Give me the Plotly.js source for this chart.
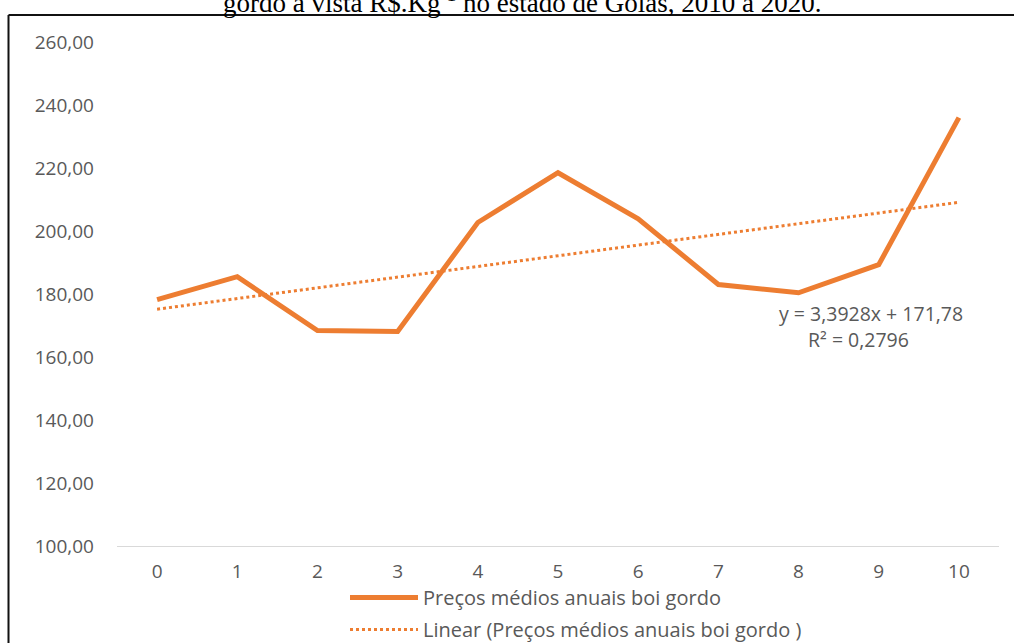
<!DOCTYPE html>
<html>
<head>
<meta charset="utf-8">
<script src="https://cdn.plot.ly/plotly-3.0.1.min.js"></script>
<style>html,body{margin:0;padding:0;background:#fff;}#chart{width:1014px;height:643px;}</style>
</head>
<body>
<div id="chart"></div>
<script>
// Data
var periods = [0, 1, 2, 3, 4, 5, 6, 7, 8, 9, 10];
var prices = [178.2, 185.5, 168.4, 168.1, 202.7, 218.5, 203.9, 183.0, 180.4, 189.3, 236.0];
var seriesName = 'Preços médios anuais boi gordo';
var trendName = 'Linear (Preços médios anuais boi gordo )';
var trendSlope = 3.3928;
var trendIntercept = 171.78;
var trendR2 = 0.2796;
var yTicks = [100, 120, 140, 160, 180, 200, 220, 240, 260];
var titleText = 'gordo à vista R$.Kg<sup>-1</sup> no estado de Goiás, 2010 a 2020.';

// Excel trendline uses x = 1..n for the category positions
var trendX = [periods[0], periods[periods.length - 1]];
var trendY = trendX.map(function (p) { return trendSlope * (p + 1) + trendIntercept; });

function fmt(v, d) { return v.toFixed(d).replace('.', ','); }

var orange = '#ED7D31';
var gray = '#595959';
var font = 'Open Sans, Lato, sans-serif';

var traces = [
  {x: periods, y: prices, type: 'scatter', mode: 'lines', name: seriesName, legendgroup: 'a',
   line: {color: orange, width: 5}},
  {x: trendX, y: trendY, type: 'scatter', mode: 'lines', name: trendName, legendgroup: 'b',
   line: {color: orange, width: 3, dash: 'dot'}}
];

var layout = {
  width: 1014, height: 643,
  margin: {l: 117, r: 15, t: 42, b: 97, autoexpand: false},
  paper_bgcolor: '#ffffff', plot_bgcolor: '#ffffff',
  separators: ',.',
  font: {family: font, color: gray, size: 19},
  showlegend: true,
  legend: {xref: 'container', yref: 'container', x: 345 / 1014, y: 1 - 578 / 643, xanchor: 'left', yanchor: 'top',
           orientation: 'v', font: {family: font, size: 20, color: gray}, itemwidth: 68, tracegroupgap: 3,
           bgcolor: 'rgba(0,0,0,0)'},
  xaxis: {range: [-0.5, 10.5], tickmode: 'array', tickvals: periods, ticktext: periods.map(String),
          showgrid: false, zeroline: false, showline: true, linecolor: '#d9d9d9', linewidth: 1,
          ticks: '', ticklabelstandoff: 8, automargin: false, tickangle: 0,
          tickfont: {family: font, size: 19, color: gray}},
  yaxis: {range: [100, 260], tickmode: 'array', tickvals: yTicks, ticktext: yTicks.map(function (v) { return fmt(v, 2); }),
          showgrid: false, zeroline: false, showline: false, ticks: '', ticklabelstandoff: 22, automargin: false,
          tickfont: {family: font, size: 19, color: gray}},
  annotations: [
    {xref: 'paper', yref: 'paper', x: (522 - 117) / 882, y: (546 - 1) / 504, xanchor: 'center', yanchor: 'middle',
     text: titleText, showarrow: false, font: {family: 'Liberation Serif, Times New Roman, serif', size: 27, color: '#000'}},
    {xref: 'x', yref: 'y', x: 8.9, y: 173.7, xanchor: 'center', yanchor: 'middle', showarrow: false,
     text: 'y = ' + fmt(trendSlope, 4) + 'x + ' + fmt(trendIntercept, 2), font: {family: font, size: 19.5, color: gray}},
    {xref: 'x', yref: 'y', x: 8.75, y: 165.7, xanchor: 'center', yanchor: 'middle', showarrow: false,
     text: 'R² = ' + fmt(trendR2, 4), font: {family: font, size: 19.5, color: gray}}
  ],
  shapes: [
    {type: 'line', xref: 'paper', yref: 'paper', x0: (8.5 - 117) / 882, x1: (1014 - 117) / 882,
     y0: (546 - 15) / 504, y1: (546 - 15) / 504, line: {color: '#111', width: 2}},
    {type: 'line', xref: 'paper', yref: 'paper', x0: (8.5 - 117) / 882, x1: (8.5 - 117) / 882,
     y0: (546 - 15) / 504, y1: (546 - 643) / 504, line: {color: '#111', width: 2}}
  ]
};

Plotly.newPlot('chart', traces, layout, {displayModeBar: false, staticPlot: true});
</script>
</body>
</html>
